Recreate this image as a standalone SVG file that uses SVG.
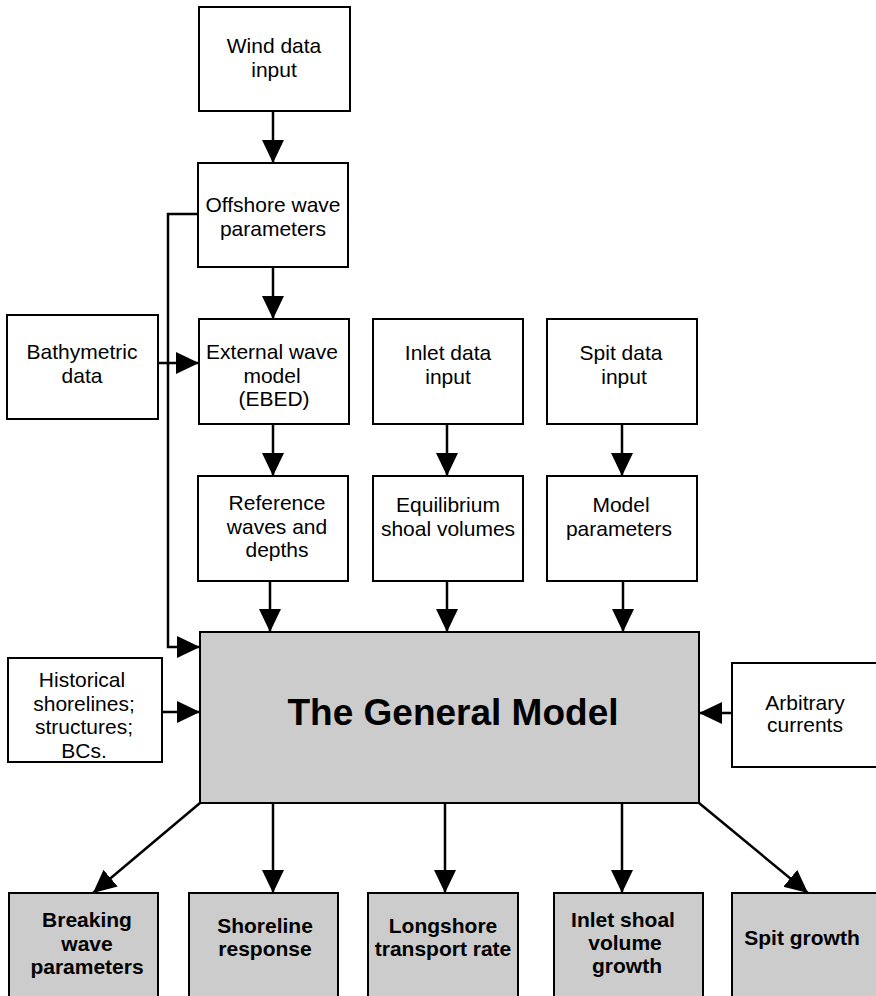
<svg xmlns="http://www.w3.org/2000/svg" width="876" height="996" viewBox="0 0 876 996">
<defs>
<marker id="ah" markerUnits="userSpaceOnUse" markerWidth="24" markerHeight="24" viewBox="0 0 24 24" refX="23" refY="12" orient="auto">
<path d="M0,1 L23,12 L0,23 Z" fill="#000"/>
</marker>
</defs>
<style>
.box{fill:#fff;stroke:#000;stroke-width:2}
.out{fill:#cccccc;stroke:#000;stroke-width:2}
.t{font-family:"Liberation Sans",Arial,sans-serif;font-size:21px;fill:#000;text-anchor:middle}
.b{font-family:"Liberation Sans",Arial,sans-serif;font-size:21px;font-weight:bold;fill:#000;text-anchor:middle}
.c{fill:none;stroke:#000;stroke-width:2.5}
</style>
<rect width="876" height="996" fill="#fff"/>
<g id="connectors">
<line class="c" x1="273" y1="111" x2="273" y2="163" marker-end="url(#ah)"/>
<line class="c" x1="273" y1="267" x2="273" y2="319" marker-end="url(#ah)"/>
<line class="c" x1="273" y1="424" x2="273" y2="476" marker-end="url(#ah)"/>
<line class="c" x1="270" y1="581" x2="270" y2="632" marker-end="url(#ah)"/>
<line class="c" x1="447" y1="424" x2="447" y2="476" marker-end="url(#ah)"/>
<line class="c" x1="447" y1="581" x2="447" y2="632" marker-end="url(#ah)"/>
<line class="c" x1="622" y1="424" x2="622" y2="476" marker-end="url(#ah)"/>
<line class="c" x1="623" y1="581" x2="623" y2="632" marker-end="url(#ah)"/>
<polyline class="c" points="198,214 168,214 168,647 200,647" marker-end="url(#ah)"/>
<line class="c" x1="158" y1="363" x2="199" y2="363" marker-end="url(#ah)"/>
<line class="c" x1="162" y1="712" x2="200" y2="712" marker-end="url(#ah)"/>
<line class="c" x1="732" y1="713" x2="699" y2="713" marker-end="url(#ah)"/>
<line class="c" x1="200" y1="803" x2="93" y2="893" marker-end="url(#ah)"/>
<line class="c" x1="273" y1="803" x2="273" y2="893" marker-end="url(#ah)"/>
<line class="c" x1="445" y1="803" x2="445" y2="893" marker-end="url(#ah)"/>
<line class="c" x1="622" y1="803" x2="622" y2="893" marker-end="url(#ah)"/>
<line class="c" x1="699" y1="803" x2="808" y2="893" marker-end="url(#ah)"/>
</g>
<g id="wind"><rect class="box" x="199" y="7" width="151" height="104"/>
<text class="t" x="274" y="53">Wind data</text><text class="t" x="274" y="77">input</text></g>
<g id="offshore"><rect class="box" x="198" y="163" width="150" height="104"/>
<text class="t" x="273" y="212">Offshore wave</text><text class="t" x="273" y="236">parameters</text></g>
<g id="bathymetric"><rect class="box" x="7" y="315" width="151" height="104"/>
<text class="t" x="82" y="359">Bathymetric</text><text class="t" x="82" y="383">data</text></g>
<g id="external"><rect class="box" x="199" y="319" width="150" height="105"/>
<text class="t" x="272" y="359">External wave</text><text class="t" x="272" y="383">model</text><text class="t" x="274" y="406">(EBED)</text></g>
<g id="reference"><rect class="box" x="198" y="476" width="150" height="105"/>
<text class="t" x="277" y="510">Reference</text><text class="t" x="277" y="534">waves and</text><text class="t" x="277" y="557">depths</text></g>
<g id="inlet"><rect class="box" x="373" y="319" width="150" height="105"/>
<text class="t" x="448" y="360">Inlet data</text><text class="t" x="448" y="384">input</text></g>
<g id="equilibrium"><rect class="box" x="373" y="476" width="150" height="105"/>
<text class="t" x="448" y="512">Equilibrium</text><text class="t" x="448" y="536">shoal volumes</text></g>
<g id="spit"><rect class="box" x="547" y="319" width="150" height="105"/>
<text class="t" x="621" y="360">Spit data</text><text class="t" x="624" y="384">input</text></g>
<g id="modelparams"><rect class="box" x="547" y="476" width="150" height="105"/>
<text class="t" x="621" y="512">Model</text><text class="t" x="619" y="536">parameters</text></g>
<g id="general"><rect class="out" x="200" y="632" width="499" height="171"/>
<text x="453" y="725" style="font-family:'Liberation Sans',Arial,sans-serif;font-size:37px;font-weight:bold;text-anchor:middle;fill:#000">The General Model</text></g>
<g id="historical"><rect class="box" x="8" y="658" width="154" height="104"/>
<text class="t" x="82" y="687">Historical</text><text class="t" x="84" y="711">shorelines;</text><text class="t" x="84" y="734">structures;</text><text class="t" x="84" y="758">BCs.</text></g>
<g id="arbitrary"><rect class="box" x="732" y="663" width="150" height="104"/>
<text class="t" x="805" y="710">Arbitrary</text><text class="t" x="805" y="732">currents</text></g>
<g id="breaking"><rect class="out" x="9" y="893" width="149" height="110"/>
<text class="b" x="87" y="927">Breaking</text><text class="b" x="87" y="951">wave</text><text class="b" x="87" y="974">parameters</text></g>
<g id="shoreline"><rect class="out" x="189" y="893" width="149" height="110"/>
<text class="b" x="265" y="933">Shoreline</text><text class="b" x="265" y="956">response</text></g>
<g id="longshore"><rect class="out" x="368" y="893" width="150" height="110"/>
<text class="b" x="443" y="933">Longshore</text><text class="b" x="443" y="956">transport rate</text></g>
<g id="inletshoal"><rect class="out" x="554" y="893" width="149" height="110"/>
<text class="b" x="623" y="927">Inlet shoal</text><text class="b" x="625" y="950">volume</text><text class="b" x="627" y="973">growth</text></g>
<g id="spitgrowth"><rect class="out" x="732" y="893" width="150" height="110"/>
<text class="b" x="802" y="945">Spit growth</text></g>
</svg>
